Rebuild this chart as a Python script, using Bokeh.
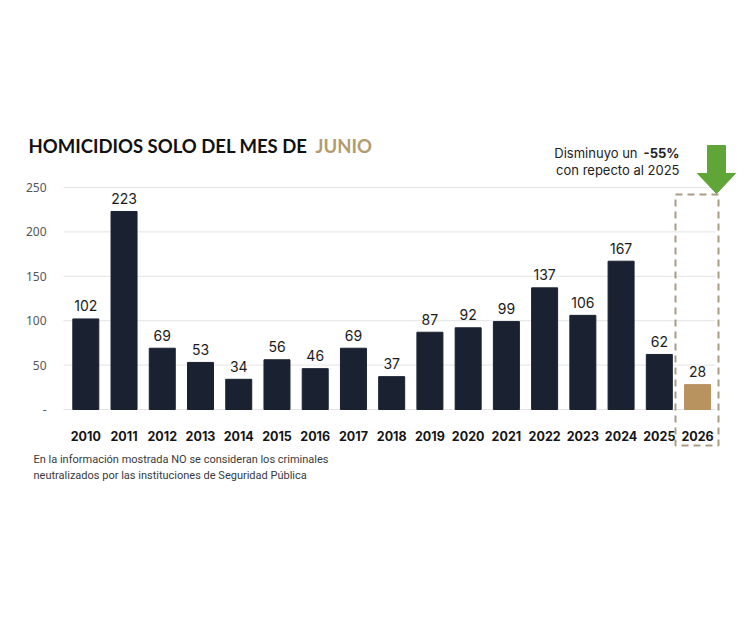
from bokeh.plotting import figure
from bokeh.models import (ColumnDataSource, Range1d, FixedTicker,
                          Label, BoxAnnotation, PolyAnnotation)
from bokeh.core.properties import value
from bokeh.embed import file_html
from bokeh.resources import INLINE

# ---- data ----
years = [2010, 2011, 2012, 2013, 2014, 2015, 2016, 2017, 2018,
         2019, 2020, 2021, 2022, 2023, 2024, 2025, 2026]
homicidios = [102, 223, 69, 53, 34, 56, 46, 69, 37, 87, 92, 99, 137, 106, 167, 62, 28]
y_ticks = [0, 50, 100, 150, 200, 250]
title_main = "HOMICIDIOS SOLO DEL MES DE "
title_month = "JUNIO"
note_line1 = "Disminuyo un"
note_pct = "-55%"
note_line2 = "con repecto al 2025"
foot1 = "En la información mostrada NO se consideran los criminales"
foot2 = "neutralizados por las instituciones de Seguridad Pública"

# ---- layout / style ----
NAVY = "#1a2232"
TAN = "#b8925f"
W, H = 745, 622
X0 = 85.3          # pixel centre of first bar
CW = 38.235        # pixels per year
Y0 = 409           # pixel of value 0
SY = 0.888         # pixels per unit

def dx(px):
    return years[0] + (px - X0) / CW
def dy(py):
    return (Y0 - py) / SY

colors = [NAVY] * (len(years) - 1) + [TAN]
src = ColumnDataSource(dict(year=years, val=homicidios, color=colors,
                            label=[str(v) for v in homicidios]))

p = figure(x_range=Range1d(dx(0), dx(W)), y_range=Range1d(dy(H), dy(0)),
           width=W, height=H, output_backend="svg", toolbar_location=None,
           min_border=0)
p.outline_line_color = None
p.background_fill_color = "white"
p.border_fill_color = "white"

# grid lines (from the tick values, spanning the chart area)
p.xgrid.visible = False
p.ygrid.visible = False
p.segment(x0=[dx(63)] * len(y_ticks), x1=[dx(715)] * len(y_ticks),
          y0=y_ticks, y1=y_ticks, line_color="#e4e4e4", line_width=1)

p.vbar(x="year", top="val", width=0.68, color="color", source=src)
p.text(x="year", y="val", text="label", source=src, text_align="center",
       text_baseline="alphabetic", y_offset=-13, text_font=value("Inter"),
       text_font_size="14px", text_color="#1b1b1b")

# axes, fixed inside the canvas
ya = p.yaxis[0]
ya.fixed_location = dx(63)
ya.bounds = (0, 250)
ya.ticker = FixedTicker(ticks=y_ticks)
ya.major_label_overrides = {0: "-"}
ya.axis_line_color = None
ya.major_tick_line_color = None
ya.minor_tick_line_color = None
ya.major_label_standoff = 11
ya.major_label_text_font = "Noto Sans"
ya.major_label_text_font_size = "12px"
ya.major_label_text_color = "#555555"

xa = p.xaxis[0]
xa.fixed_location = 0
xa.bounds = (years[0] - 0.5, years[-1] + 0.5)
xa.ticker = FixedTicker(ticks=years)
xa.major_label_overrides = {y: str(y) for y in years}
xa.axis_line_color = None
xa.major_tick_line_color = None
xa.minor_tick_line_color = None
xa.major_label_standoff = 15
xa.major_label_text_font = "Inter"
xa.major_label_text_font_style = "bold"
xa.major_label_text_font_size = "12.5px"
xa.major_label_text_color = "#151515"

# title
p.add_layout(Label(x=dx(28), y=dy(145), text=title_main, text_baseline="middle",
                   text_font="Lato", text_font_style="bold", text_font_size="18.5px",
                   text_color="#111111"))
p.add_layout(Label(x=dx(315), y=dy(145), text=title_month, text_baseline="middle",
                   text_font="Lato", text_font_style="bold", text_font_size="18.5px",
                   text_color="#b39b70"))

# annotation text
p.add_layout(Label(x=dx(679), y=dy(152), text=note_pct, text_align="right",
                   text_baseline="middle", text_font="Inter", text_font_style="bold",
                   text_font_size="13px", text_color="#222222"))
p.add_layout(Label(x=dx(637), y=dy(152), text=note_line1, text_align="right",
                   text_baseline="middle", text_font="Inter",
                   text_font_size="13px", text_color="#222222"))
p.add_layout(Label(x=dx(679), y=dy(169), text=note_line2, text_align="right",
                   text_baseline="middle", text_font="Inter",
                   text_font_size="13px", text_color="#222222"))

# dashed highlight box around 2026
p.add_layout(BoxAnnotation(left=dx(675), right=dx(718), top=dy(194), bottom=dy(445),
                           fill_alpha=0, line_color="#a89d84", line_alpha=1,
                           line_width=2, line_dash="7 5"))

# green arrow
ax = [707, 725, 725, 735, 716, 697, 707]
ay = [145, 145, 173, 173, 193, 173, 173]
p.add_layout(PolyAnnotation(xs=[dx(v) for v in ax], ys=[dy(v) for v in ay],
                            fill_color="#5fa538", fill_alpha=1, line_color="#5fa538",
                            line_alpha=1, line_width=1))

# footnote
p.add_layout(Label(x=dx(33), y=dy(459), text=foot1, text_baseline="middle",
                   text_font="Roboto", text_font_size="11px", text_color="#3a3a3a"))
p.add_layout(Label(x=dx(33), y=dy(475), text=foot2, text_baseline="middle",
                   text_font="Roboto", text_font_size="11px", text_color="#3a3a3a"))

open("out.html", "w").write(file_html(p, INLINE))
